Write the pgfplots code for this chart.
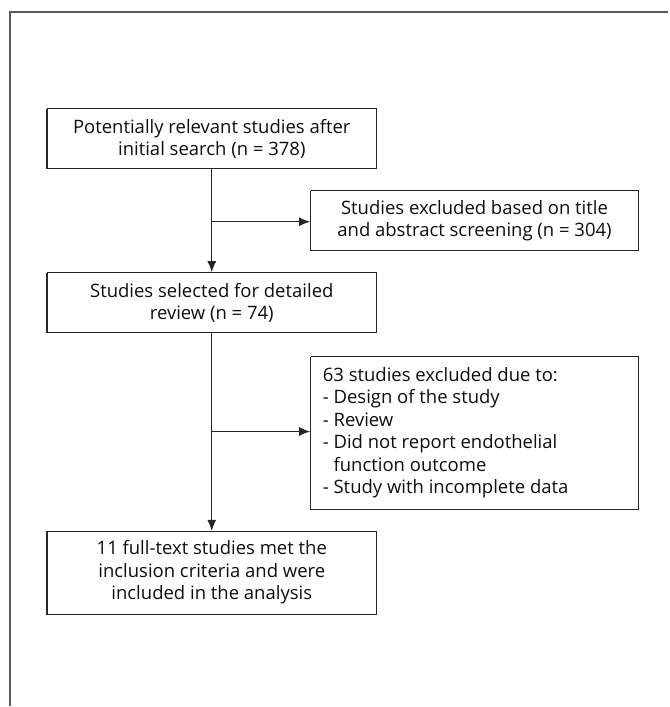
\documentclass[border=0pt]{standalone}
\usepackage{pgfplots}
\pgfplotsset{compat=1.18}
\usepackage{fontspec}
\setmainfont{Open Sans}
\usetikzlibrary{arrows.meta}
\begin{document}
\begin{tikzpicture}
\begin{axis}[
  width=669pt, height=707pt, scale only axis,
  xmin=0, xmax=669, ymin=0, ymax=707,
  hide axis, clip=false,
]
\path (axis cs:0,0) rectangle (axis cs:669,707);
% frame
\addplot[draw=black!65, line width=1.5pt] coordinates {(10,0) (10,695) (669,695)};
% boxes
\addplot[draw=black!85, line width=1.2pt] coordinates {(47,598) (377,598) (377,538) (47,538) (47,598)};
\addplot[draw=black!85, line width=1.2pt] coordinates {(311,516) (639,516) (639,456) (311,456) (311,516)};
\addplot[draw=black!85, line width=1.2pt] coordinates {(47,434) (377,434) (377,374) (47,374) (47,434)};
\addplot[draw=black!85, line width=1.2pt] coordinates {(311,350) (639,350) (639,197) (311,197) (311,350)};
\addplot[draw=black!85, line width=1.2pt] coordinates {(47,175) (377,175) (377,92) (47,92) (47,175)};
% arrows
\addplot[draw=black!85, line width=1.2pt, -{Latex[length=11pt,width=9pt]}] coordinates {(212,538) (212,434.5)};
\addplot[draw=black!85, line width=1.2pt, -{Latex[length=11pt,width=9pt]}] coordinates {(212,374) (212,175.5)};
\addplot[draw=black!85, line width=1.2pt, -{Latex[length=11pt,width=9pt]}] coordinates {(212,485) (310.5,485)};
\addplot[draw=black!85, line width=1.2pt, -{Latex[length=11pt,width=9pt]}] coordinates {(212,275) (310.5,275)};
% texts
\tikzset{every node/.style={font=\fontsize{18.5}{22.5}\selectfont, text=black!95, inner sep=0pt}}
\node[align=center] at (axis cs:212,568) {Potentially relevant studies after\\initial search (n = 378)};
\node[align=center] at (axis cs:475,486) {Studies excluded based on title\\and abstract screening (n = 304)};
\node[align=center] at (axis cs:212,404) {Studies selected for detailed\\review (n = 74)};
\node[align=left, anchor=west] at (axis cs:323,274) {63 studies excluded due to:\\- Design of the study\\- Review\\- Did not report endothelial\\\phantom{- }function outcome\\- Study with incomplete data};
\node[align=center] at (axis cs:212,134) {11 full-text studies met the\\inclusion criteria and were\\included in the analysis};
\end{axis}
\end{tikzpicture}
\end{document}
